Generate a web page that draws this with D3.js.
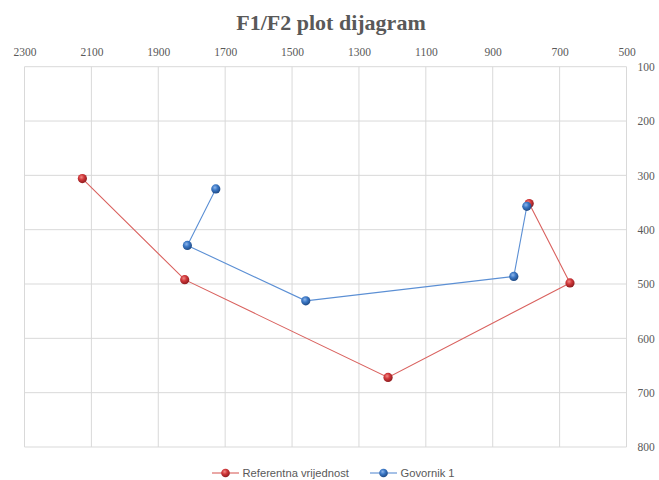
<!DOCTYPE html>
<html>
<head>
<meta charset="utf-8">
<script src="https://cdn.jsdelivr.net/npm/d3@7"></script>
<style>
  body { margin: 0; background: #fff; }
  svg { display: block; }
</style>
</head>
<body>
<svg id="chart" width="659" height="480"></svg>
<script>
// F2 (x) and F1 (y) values
var refF2 = [2127, 1821, 1213, 669, 791];
var refF1 = [306, 492, 672, 498, 352];
var govF2 = [1728, 1813, 1459, 837, 798];
var govF1 = [325, 429, 531, 486, 357];

var xTicks = [2300, 2100, 1900, 1700, 1500, 1300, 1100, 900, 700, 500];
var yTicks = [100, 200, 300, 400, 500, 600, 700, 800];

var seriesNames = ["Referentna vrijednost", "Govornik 1"];

var svg = d3.select("#chart");

// reversed x, reversed y (F1 grows downward)
var x = d3.scaleLinear().domain([2300, 500]).range([24.5, 626.5]);
var y = d3.scaleLinear().domain([100, 800]).range([66.7, 447]);

var grey = "#595959";
var gridColor = "#d9d9d9";

// gradients for the shiny markers
var defs = svg.append("defs");
function ball(id, light, mid, dark) {
  var g = defs.append("radialGradient").attr("id", id)
    .attr("cx", "40%").attr("cy", "35%").attr("r", "65%");
  g.append("stop").attr("offset", "0%").attr("stop-color", light);
  g.append("stop").attr("offset", "45%").attr("stop-color", mid);
  g.append("stop").attr("offset", "100%").attr("stop-color", dark);
}
ball("redBall", "#f08a84", "#d0373a", "#8e1c1f");
ball("blueBall", "#8fb6ea", "#3b78c6", "#1f4a85");

// title
svg.append("text")
  .attr("x", 331).attr("y", 30)
  .attr("text-anchor", "middle")
  .style("font-family", "'Liberation Serif', 'Times New Roman', serif")
  .style("font-weight", "bold")
  .style("font-size", "22px")
  .style("fill", grey)
  .text("F1/F2 plot dijagram");

// grid
svg.append("g").selectAll("line").data(xTicks).enter().append("line")
  .attr("x1", d => x(d)).attr("x2", d => x(d))
  .attr("y1", y(100)).attr("y2", y(800))
  .style("stroke", gridColor).style("stroke-width", 1);

svg.append("g").selectAll("line").data(yTicks).enter().append("line")
  .attr("x1", x(2300)).attr("x2", x(500))
  .attr("y1", d => y(d)).attr("y2", d => y(d))
  .style("stroke", gridColor).style("stroke-width", 1);

// axes
var xAxis = svg.append("g")
  .attr("transform", "translate(0," + y(100) + ")")
  .call(d3.axisTop(x).tickValues(xTicks).tickSize(0).tickPadding(11).tickFormat(d3.format("d")));

var yAxis = svg.append("g")
  .attr("transform", "translate(" + x(500) + ",0)")
  .call(d3.axisRight(y).tickValues(yTicks).tickSize(0).tickPadding(11).tickFormat(d3.format("d")));

[xAxis, yAxis].forEach(function (a) {
  a.select(".domain").remove();
  a.selectAll("text")
    .style("font-family", "'Liberation Serif', 'Times New Roman', serif")
    .style("font-size", "11.5px")
    .style("fill", grey);
});
xAxis.selectAll("text").attr("dy", "0");

// series
var line = d3.line().x(d => x(d[0])).y(d => y(d[1]));

var refData = refF2.map((v, i) => [v, refF1[i]]);
var govData = govF2.map((v, i) => [v, govF1[i]]);

var series = [
  { data: refData, stroke: "#d9615e", fill: "url(#redBall)" },
  { data: govData, stroke: "#5b8fd4", fill: "url(#blueBall)" }
];

series.forEach(function (s) {
  svg.append("path")
    .datum(s.data)
    .attr("d", line)
    .style("fill", "none")
    .style("stroke", s.stroke)
    .style("stroke-width", 1.1);
});

series.forEach(function (s) {
  svg.append("g").selectAll("circle").data(s.data).enter().append("circle")
    .attr("cx", d => x(d[0]))
    .attr("cy", d => y(d[1]))
    .attr("r", 4.6)
    .style("fill", s.fill);
});

// legend
var legendPos = [212, 370];
seriesNames.forEach(function (name, i) {
  var lx = legendPos[i];
  var g = svg.append("g").attr("transform", "translate(" + lx + ",473)");
  g.append("line").attr("x1", 0).attr("x2", 27).attr("y1", 0).attr("y2", 0)
    .style("stroke", series[i].stroke).style("stroke-width", 1.1);
  g.append("circle").attr("cx", 13.5).attr("cy", 0).attr("r", 4.3)
    .style("fill", series[i].fill);
  g.append("text").attr("x", 30.5).attr("y", 0).attr("dy", "0.35em")
    .style("font-family", "'Liberation Sans', Arial, sans-serif")
    .style("font-size", "11.2px")
    .style("fill", grey)
    .text(name);
});
</script>
</body>
</html>
